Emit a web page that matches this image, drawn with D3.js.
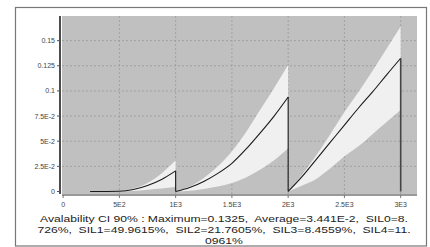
<!doctype html>
<meta charset="utf-8" />
<style>
  body { margin: 0; background: #fff; }
  text { font-family: "Liberation Sans", Arial, sans-serif; }
</style>
<svg></svg>

<script src="https://cdn.jsdelivr.net/npm/d3@7"></script>

<script>
    // cycle 1 (0 .. 1E3)
    var t1 = [240, 500, 625, 750, 875, 1000];
    var mean1 = [0, 0.0003, 0.002, 0.006, 0.012, 0.0205];
    var upper1 = [0, 0.0005, 0.003, 0.0085, 0.018, 0.031];
    var lower1 = [0, 0.0001, 0.0005, 0.0018, 0.003, 0.0045];

    // cycle 2 (1E3 .. 2E3)
    var t2 = [1000, 1125, 1250, 1375, 1500, 1625, 1750, 1875, 2000];
    var mean2 = [0, 0.004, 0.010, 0.018, 0.028, 0.042, 0.058, 0.075, 0.094];
    var upper2 = [0, 0.005, 0.0134, 0.025, 0.040, 0.059, 0.081, 0.103, 0.126];
    var lower2 = [0, 0.0008, 0.0025, 0.005, 0.0084, 0.014, 0.0216, 0.031, 0.043];

    // cycle 3 (2E3 .. 3E3)
    var t3 = [2000, 2125, 2250, 2375, 2500, 2625, 2750, 2875, 3000];
    var mean3 = [0, 0.015, 0.032, 0.049, 0.066, 0.083, 0.099, 0.116, 0.1325];
    var upper3 = [0, 0.017, 0.036, 0.057, 0.079, 0.099, 0.120, 0.142, 0.164];
    var lower3 = [0, 0.006, 0.0125, 0.023, 0.035, 0.045, 0.057, 0.069, 0.081];

    var xTicks = [0, 500, 1000, 1500, 2000, 2500, 3000];
    var xLabels = ['0', '5E2', '1E3', '1.5E3', '2E3', '2.5E3', '3E3'];
    var yTicks = [0, 0.025, 0.05, 0.075, 0.1, 0.125, 0.15];
    var yLabels = ['0', '2.5E-2', '5E-2', '7.5E-2', '0.1', '0.125', '0.15'];

    var caption = [
        'Avalability CI 90% : Maximum=0.1325,  Average=3.441E-2,  SIL0=8.',
        '726%,  SIL1=49.9615%,  SIL2=21.7605%,  SIL3=8.4559%,  SIL4=11.',
        '0961%'
    ];

    var W = 430, H = 247;
    var svg = d3.select('svg')
        .attr('width', W)
        .attr('height', H)

    // outer frame
    svg.append('rect')
        .attr('x', 15.5).attr('y', 7.5)
        .attr('width', 411).attr('height', 238.5)
        .style('fill', '#fff')
        .style('stroke', '#777')
        .style('stroke-width', 1.2)

    var x = d3.scaleLinear().domain([-10, 3145]).range([62, 417]);
    var y = d3.scaleLinear().domain([-0.0025, 0.1745]).range([194, 16]);

    // plot background
    svg.append('rect')
        .attr('x', x(-10)).attr('y', y(0.1745))
        .attr('width', x(3145) - x(-10))
        .attr('height', y(-0.0025) - y(0.1745))
        .style('fill', '#c0c0c0')

    // grid
    var grid = svg.append('g')
        .style('stroke', '#999')
        .style('stroke-width', 0.8)
        .style('stroke-dasharray', '2,2')
    grid.selectAll('.gx').data(xTicks.slice(1)).enter().append('line')
        .attr('x1', d => x(d)).attr('x2', d => x(d))
        .attr('y1', y(0.1745)).attr('y2', y(-0.0025))
    grid.selectAll('.gy').data(yTicks.slice(1)).enter().append('line')
        .attr('x1', x(-10)).attr('x2', x(3145))
        .attr('y1', d => y(d)).attr('y2', d => y(d))

    var cycles = [
        { t: t1, mean: mean1, upper: upper1, lower: lower1 },
        { t: t2, mean: mean2, upper: upper2, lower: lower2 },
        { t: t3, mean: mean3, upper: upper3, lower: lower3 }
    ];

    var area = d3.area()
        .x(d => x(d.t))
        .y0(d => y(d.lo))
        .y1(d => y(d.hi))
        .curve(d3.curveMonotoneX)

    var line = d3.line()
        .x(d => x(d[0]))
        .y(d => y(d[1]))
        .curve(d3.curveMonotoneX)

    // confidence bands
    cycles.forEach(function (c) {
        var pts = c.t.map((t, i) => ({ t: t, lo: c.lower[i], hi: c.upper[i] }));
        svg.append('path')
            .attr('d', area(pts))
            .style('fill', '#f0f0f0')
    });

    // mean line per cycle, then the drop back to 0 at the end of each
    cycles.forEach(function (c, k) {
        svg.append('path')
            .attr('d', line(c.t.map((t, i) => [t, c.mean[i]])))
            .style('fill', 'none')
            .style('stroke', '#1a1a1a')
            .style('stroke-width', 1.1)
        var tEnd = c.t[c.t.length - 1];
        var vEnd = c.mean[c.mean.length - 1];
        svg.append('line')
            .attr('x1', x(tEnd)).attr('x2', x(tEnd))
            .attr('y1', y(vEnd)).attr('y2', y(0))
            .style('stroke', k === 2 ? '#444' : '#1a1a1a')
            .style('stroke-width', k === 2 ? 1.6 : 1.1)
    });

    // y axis
    svg.append('line')
        .attr('x1', 60).attr('x2', 60)
        .attr('y1', 16).attr('y2', 194)
        .style('stroke', '#111')
        .style('stroke-width', 1.5)
    var yg = svg.append('g')
    yg.selectAll('line').data(yTicks).enter().append('line')
        .attr('x1', 57).attr('x2', 60)
        .attr('y1', d => y(d)).attr('y2', d => y(d))
        .style('stroke', '#555')
    yg.selectAll('text').data(yTicks).enter().append('text')
        .attr('x', 55)
        .attr('y', d => y(d))
        .attr('dy', '0.35em')
        .attr('text-anchor', 'end')
        .style('font-size', '7px')
        .style('fill', '#444')
        .text((d, i) => yLabels[i])

    // x axis
    svg.append('line')
        .attr('x1', 62).attr('x2', 417)
        .attr('y1', 195).attr('y2', 195)
        .style('stroke', '#999')
        .style('stroke-width', 2)
    var xg = svg.append('g')
    xg.selectAll('line').data(xTicks).enter().append('line')
        .attr('x1', d => x(d)).attr('x2', d => x(d))
        .attr('y1', 195).attr('y2', 198)
        .style('stroke', '#777')
    xg.selectAll('text').data(xTicks).enter().append('text')
        .attr('x', d => x(d))
        .attr('y', 206.5)
        .attr('text-anchor', 'middle')
        .style('font-size', '7px')
        .style('fill', '#444')
        .text((d, i) => xLabels[i])

    // caption, glyphs stretched wide like the original
    var capY = [222.3, 233.3, 243.5];
    var cap = svg.append('g').selectAll('text').data(caption).enter().append('text')
        .attr('text-anchor', 'middle')
        .style('font-size', '9.3px')
        .style('fill', '#222')
        .style('white-space', 'pre')
        .text(d => d)
    var w0 = cap.node().getComputedTextLength();
    var sx = 368 / w0;
    cap.attr('transform', (d, i) => 'translate(224,' + capY[i] + ') scale(' + sx + ',1)')
</script>
